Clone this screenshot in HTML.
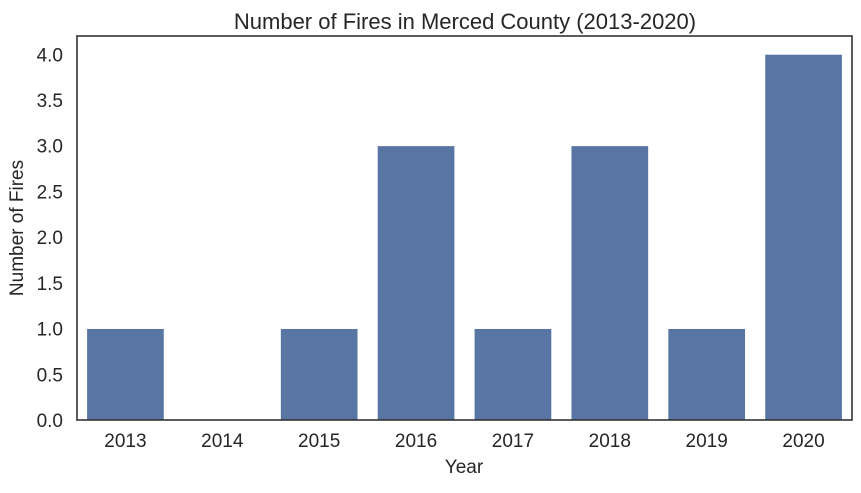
<!DOCTYPE html>
<html><head><meta charset="utf-8"><style>
body{margin:0;background:#fff;}
svg text{font-family:"Liberation Sans","DejaVu Sans",sans-serif;fill:#262626;}
</style></head><body>
<svg id="chart" width="861" height="488" viewBox="0 0 861 488">
<text x="465" y="29" font-size="22" text-anchor="middle">Number of Fires in Merced County (2013-2020)</text>
<g id="bars"></g>
<g id="xticks"></g>
<g id="yticks"></g>
<rect x="77" y="36" width="775" height="384" fill="none" stroke="#333" stroke-width="1.6"/>
<text x="464" y="473" font-size="19" text-anchor="middle">Year</text>
<text transform="translate(23,228) rotate(-90)" font-size="19" text-anchor="middle">Number of Fires</text>
</svg>
<script>
const categories=["2013","2014","2015","2016","2017","2018","2019","2020"];
const values=[1,0,1,3,1,3,1,4];
const yTickLabels=["0.0","0.5","1.0","1.5","2.0","2.5","3.0","3.5","4.0"];
const yTickValues=[0,0.5,1,1.5,2,2.5,3,3.5,4];
const L=77,R=852,T=36,B=420,YMAX=4.2;
const step=(R-L)/categories.length;
function xc(i){return L+(i+0.5)*step;}
function y(v){return B-(v/YMAX)*(B-T);}
const ns="http://www.w3.org/2000/svg";
const bars=document.getElementById('bars'),xt=document.getElementById('xticks'),yt=document.getElementById('yticks');
categories.forEach((c,i)=>{
 const r=document.createElementNS(ns,'rect');
 const w=step*0.8;
 r.setAttribute('x',xc(i)-w/2);r.setAttribute('width',w);
 r.setAttribute('y',y(values[i]));r.setAttribute('height',B-y(values[i]));
 r.setAttribute('fill','#5975a4');r.setAttribute('stroke','#fff');r.setAttribute('stroke-width','0.8');
 
 
 bars.appendChild(r);
 const t=document.createElementNS(ns,'text');
 t.setAttribute('x',xc(i));t.setAttribute('y',B+27);t.setAttribute('font-size','19');t.setAttribute('text-anchor','middle');
 t.textContent=c;
 
 
 xt.appendChild(t);
});
yTickValues.forEach((v,i)=>{
 const t=document.createElementNS(ns,'text');
 t.setAttribute('x',63);t.setAttribute('y',y(v)+7);t.setAttribute('font-size','19');t.setAttribute('text-anchor','end');
 t.textContent=yTickLabels[i];
 
 
 yt.appendChild(t);
});
</script>
</body></html>
